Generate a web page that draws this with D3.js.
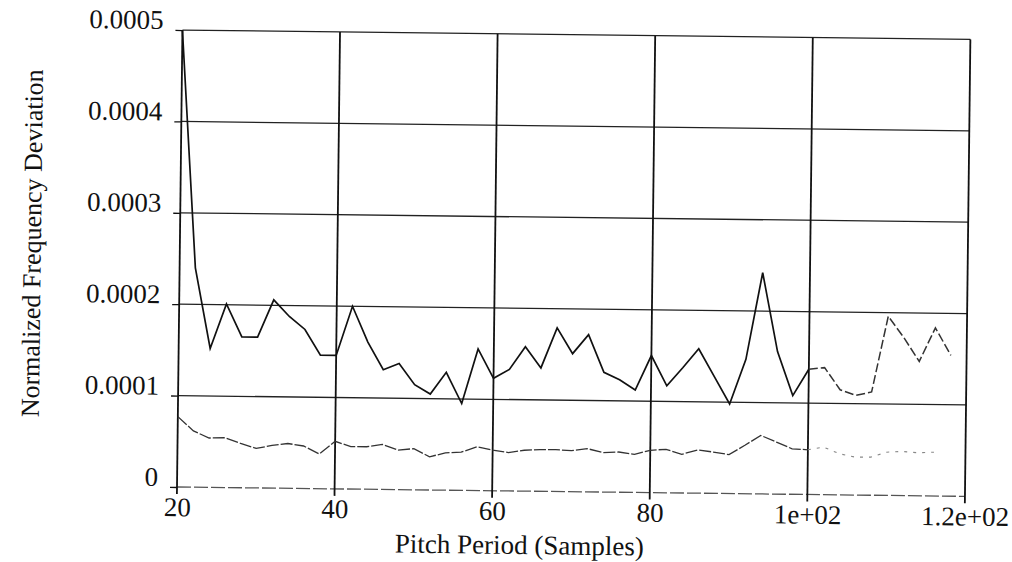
<!DOCTYPE html>
<html>
<head>
<meta charset="utf-8">
<script src="https://d3js.org/d3.v7.min.js"></script>
<style>
  body { margin: 0; background: #fff; }
  text { font-family: "Liberation Serif", "Times New Roman", serif; fill: #111; }
</style>
</head>
<body>
<script>
// Pitch period (samples) on the x axis
var pitch = [20, 22, 24, 26, 28, 30, 32, 34, 36, 38, 40, 42, 44, 46, 48, 50, 52, 54, 56, 58,
             60, 62, 64, 66, 68, 70, 72, 74, 76, 78, 80, 82, 84, 86, 88, 90, 92, 94, 96, 98,
             100, 102, 104, 106, 108, 110, 112, 114, 116, 118];

// upper curve (solid)
var upper = [0.000500, 0.000240, 0.000152, 0.000201, 0.000165, 0.000165, 0.000206, 0.000188, 0.000174, 0.000146,
             0.000146, 0.000200, 0.000161, 0.000131, 0.000138, 0.000115, 0.000105, 0.000129, 0.000095, 0.000155,
             0.000123, 0.000133, 0.000158, 0.000135, 0.000179, 0.000151, 0.000172, 0.000131, 0.000123, 0.000112,
             0.000150, 0.000117, 0.000137, 0.000158, 0.000128, 0.000098, 0.000147, 0.000242, 0.000156, 0.000108,
             0.000137, 0.000139, 0.000115, 0.000109, 0.000113, 0.000196, 0.000173, 0.000147, 0.000184, 0.000154];

// lower curve (dashed), stops at 116
var lower = [0.0000770, 0.0000616, 0.0000540, 0.0000545, 0.0000485, 0.0000432, 0.0000467, 0.0000490, 0.0000465, 0.0000380,
             0.0000520, 0.0000465, 0.0000465, 0.0000493, 0.0000433, 0.0000450, 0.0000363, 0.0000408, 0.0000418, 0.0000478,
             0.0000444, 0.0000420, 0.0000447, 0.0000456, 0.0000458, 0.0000449, 0.0000473, 0.0000432, 0.0000440, 0.0000417,
             0.0000463, 0.0000476, 0.0000423, 0.0000473, 0.0000452, 0.0000426, 0.0000530, 0.0000640, 0.0000569, 0.0000498,
             0.0000489, 0.0000520, 0.0000450, 0.0000415, 0.0000417, 0.0000473, 0.0000483, 0.0000471, 0.0000479];

var xTicks = [20, 40, 60, 80, 100, 120];
var xTickLabels = ["20", "40", "60", "80", "1e+02", "1.2e+02"];
var yTicks = [0, 0.0001, 0.0002, 0.0003, 0.0004, 0.0005];
var yTickLabels = ["0", "0.0001", "0.0002", "0.0003", "0.0004", "0.0005"];

// Set the dimensions and margins of the graph
var margin = {top: 30, left: 177},
    width = 788,
    height = 457;

var svg = d3.select("body")
  .append("svg")
    .attr("width", 1012)
    .attr("height", 562);

// the scanned figure is slightly rotated
var page = svg.append("g")
    .attr("transform", "rotate(0.68," + margin.left + "," + (margin.top + height) + ")");

var g = page.append("g")
    .attr("transform", "translate(" + margin.left + "," + margin.top + ")");

var x = d3.scaleLinear()
  .domain([20, 120])
  .range([0, width]);

var y = d3.scaleLinear()
  .domain([0, 0.0005])
  .range([height, 0]);

// Horizontal grid lines
g.append("g")
  .selectAll("line")
  .data(yTicks)
  .enter()
  .append("line")
    .attr("x1", 0)
    .attr("x2", width)
    .attr("y1", function(d) { return y(d); })
    .attr("y2", function(d) { return y(d); })
    .attr("stroke", function(d) { return d === 0 ? "#555" : "#222"; })
    .attr("stroke-width", 1.3)
    .attr("stroke-dasharray", function(d) { return d === 0 ? "14,3" : null; });

// Vertical grid lines
g.append("g")
  .selectAll("line")
  .data(xTicks)
  .enter()
  .append("line")
    .attr("x1", function(d) { return x(d); })
    .attr("x2", function(d) { return x(d); })
    .attr("y1", 0)
    .attr("y2", height + 7)
    .attr("stroke", "#111")
    .attr("stroke-width", 1.8);

// Y axis ticks + labels
var yAxis = d3.axisLeft(y)
  .tickValues(yTicks)
  .tickSize(7)
  .tickPadding(12)
  .tickFormat(function(d, i) { return yTickLabels[i]; });

g.append("g")
  .call(yAxis)
  .call(function(a) {
    a.select(".domain").remove();
    a.selectAll("line").attr("stroke", "#111").attr("stroke-width", 1.3);
    a.selectAll("text")
      .attr("dy", "-0.05em")
      .style("font-family", "Liberation Serif")
      .style("font-size", "27px")
      .attr("fill", "#111");
  });

// X axis labels
var xAxis = d3.axisBottom(x)
  .tickValues(xTicks)
  .tickSize(0)
  .tickPadding(10)
  .tickFormat(function(d, i) { return xTickLabels[i]; });

g.append("g")
  .attr("transform", "translate(0," + height + ")")
  .call(xAxis)
  .call(function(a) {
    a.select(".domain").remove();
    a.selectAll("text")
      .style("font-family", "Liberation Serif")
      .style("font-size", "27px")
      .attr("fill", "#111");
  });

// Lines
var line = d3.line()
  .x(function(d) { return x(d.p); })
  .y(function(d) { return y(d.v); });

var upperData = pitch.map(function(p, i) { return {p: p, v: upper[i]}; });
var lowerData = lower.map(function(v, i) { return {p: pitch[i], v: v}; });

g.append("path")
  .datum(upperData.filter(function(d) { return d.p <= 100; }))
  .attr("fill", "none")
  .attr("stroke", "#111")
  .attr("stroke-width", 1.7)
  .attr("d", line);

g.append("path")
  .datum(upperData.filter(function(d) { return d.p >= 100; }))
  .attr("fill", "none")
  .attr("stroke", "#333")
  .attr("stroke-width", 1.5)
  .attr("stroke-dasharray", "9,3")
  .attr("d", line);

g.append("path")
  .datum(lowerData.filter(function(d) { return d.p <= 100; }))
  .attr("fill", "none")
  .attr("stroke", "#333")
  .attr("stroke-width", 1.3)
  .attr("stroke-dasharray", "12,2")
  .attr("d", line);

g.append("path")
  .datum(lowerData.filter(function(d) { return d.p >= 100; }))
  .attr("fill", "none")
  .attr("stroke", "#888")
  .attr("stroke-width", 1.1)
  .attr("stroke-dasharray", "3,6")
  .attr("d", line);

// Axis titles
g.append("text")
  .attr("text-anchor", "middle")
  .attr("x", 343)
  .attr("y", height + 63)
  .style("font-size", "27px")
  .text("Pitch Period (Samples)");

g.append("text")
  .attr("text-anchor", "middle")
  .attr("transform", "rotate(-90)")
  .attr("x", -(height - 242 + 0))
  .attr("y", -139)
  .style("font-size", "26px")
  .text("Normalized Frequency Deviation");
</script>
</body>
</html>
